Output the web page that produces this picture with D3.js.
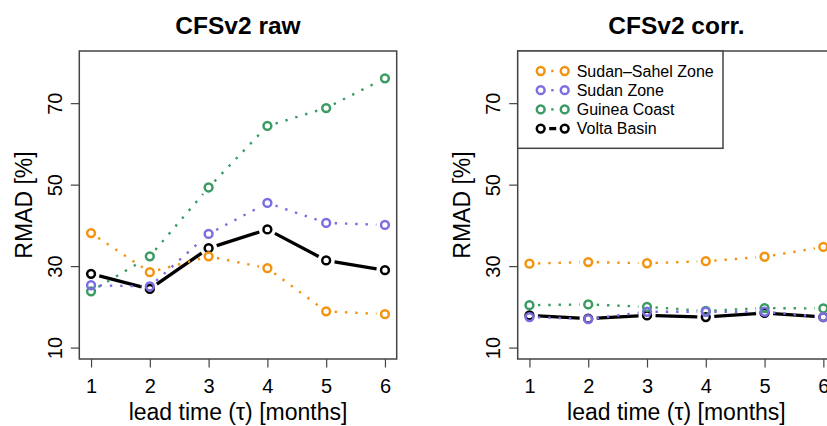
<!DOCTYPE html>
<html>
<head>
<meta charset="utf-8">
<script src="https://cdn.jsdelivr.net/npm/d3@7"></script>
<style>
  html, body { margin: 0; padding: 0; background: #fff; }
  svg { display: block; }
  text { font-family: "Liberation Sans", Arial, Helvetica, sans-serif; fill: #000; }
</style>
</head>
<body>
<svg id="chart" width="827" height="426"></svg>
<script>
// Lead times (months) and RMAD [%] per region, raw and bias-corrected CFSv2
const leadTime = [1, 2, 3, 4, 5, 6];
const yTicks = [10, 30, 50, 70];

const rawSahel  = [38.1, 28.5, 32.4, 29.5, 18.9, 18.2];
const rawSudan  = [25.3, 25.0, 37.9, 45.5, 40.6, 40.1];
const rawGuinea = [23.8, 32.4, 49.3, 64.4, 68.8, 76.1];
const rawVolta  = [28.1, 24.4, 34.4, 39.0, 31.4, 29.0];

const corrSahel  = [30.6, 31.0, 30.7, 31.2, 32.3, 34.7];
const corrSudan  = [17.5, 17.0, 18.8, 18.8, 18.8, 17.5];
const corrGuinea = [20.4, 20.6, 20.0, 19.0, 19.7, 19.6];
const corrVolta  = [17.9, 17.1, 17.9, 17.5, 18.5, 17.5];

const regionNames  = ["Sudan\u2013Sahel Zone", "Sudan Zone", "Guinea Coast", "Volta Basin"];
const regionColors = ["#f39410", "#7b6ee0", "#3a9c62", "#000000"];

const panels = [
  { title: "CFSv2 raw",   series: [rawSahel, rawSudan, rawGuinea, rawVolta],     left: 79.3,  legend: false },
  { title: "CFSv2 corr.", series: [corrSahel, corrSudan, corrGuinea, corrVolta], left: 517.7, legend: true }
];

const svg = d3.select("#chart");
const plotW = 317.4, plotTop = 51, plotBottom = 359;
const font = '"Liberation Sans", Arial, Helvetica, sans-serif';
const boxColor = "#444";
const gap = 8.5;          // space left around each point marker on the connecting lines
const r = 3.9;            // marker radius

// Line segments between consecutive points, trimmed so they stop short of the markers
function segments(pts) {
  const out = [];
  for (let i = 0; i < pts.length - 1; i++) {
    const [x0, y0] = pts[i], [x1, y1] = pts[i + 1];
    const dx = x1 - x0, dy = y1 - y0, len = Math.hypot(dx, dy);
    if (len <= 2 * gap) continue;
    const ux = dx / len, uy = dy / len;
    out.push([[x0 + ux * gap, y0 + uy * gap], [x1 - ux * gap, y1 - uy * gap]]);
  }
  return out;
}

function styleLine(sel, i) {
  if (i === 3) {
    sel.attr("stroke", regionColors[i]).attr("stroke-width", 3.3).attr("stroke-linecap", "butt");
  } else {
    sel.attr("stroke", regionColors[i]).attr("stroke-width", 2.4)
       .attr("stroke-dasharray", "2.4 7.9").attr("stroke-linecap", "butt");
  }
}

const drawOrder = [3, 2, 1, 0];

panels.forEach(p => {
  const x = d3.scaleLinear().domain([0.8, 6.2]).range([p.left, p.left + plotW]);
  const y = d3.scaleLinear().domain([7.2, 82.8]).range([plotBottom, plotTop]);
  const g = svg.append("g");

  // title
  g.append("text")
    .attr("x", p.left + plotW / 2).attr("y", 33.5)
    .attr("text-anchor", "middle")
    .style("font-size", "24.5px").style("font-weight", "bold")
    .text(p.title);

  // x axis
  const xAxis = g.append("g").attr("transform", `translate(0,${plotBottom})`)
    .call(d3.axisBottom(x).tickValues(leadTime).tickSize(8.5).tickFormat(d3.format("d")));
  xAxis.select(".domain").remove();
  xAxis.selectAll(".tick line").attr("stroke", boxColor).attr("stroke-width", 1.2);
  xAxis.selectAll(".tick text")
    .attr("y", 20).attr("dy", "0.71em")
    .style("font-size", "20px").style("font-family", font);

  g.append("text")
    .attr("x", p.left + plotW / 2).attr("y", 420)
    .attr("text-anchor", "middle")
    .style("font-size", "23px")
    .text("lead time (\u03c4) [months]");

  // y axis
  const yAxis = g.append("g").attr("transform", `translate(${p.left},0)`)
    .call(d3.axisLeft(y).tickValues(yTicks).tickSize(8.5).tickFormat(d3.format("d")));
  yAxis.select(".domain").remove();
  yAxis.selectAll(".tick line").attr("stroke", boxColor).attr("stroke-width", 1.2);
  yAxis.selectAll(".tick text").remove();
  yAxis.selectAll(".tick").append("text")
    .attr("transform", "translate(-25,0) rotate(-90)")
    .attr("text-anchor", "middle").attr("dy", "0.36em")
    .style("font-size", "20px").style("font-family", font)
    .text(d => d);

  g.append("text")
    .attr("transform", `translate(${p.left - 56},${(plotTop + plotBottom) / 2}) rotate(-90)`)
    .attr("text-anchor", "middle").attr("dy", "0.36em")
    .style("font-size", "23px")
    .text("RMAD [%]");

  // plot box
  g.append("rect")
    .attr("x", p.left).attr("y", plotTop).attr("width", plotW).attr("height", plotBottom - plotTop)
    .attr("fill", "none").attr("stroke", boxColor).attr("stroke-width", 1.5);

  // series
  drawOrder.forEach(i => {
    const vals = p.series[i];
    const pts = leadTime.map((t, k) => [x(t), y(vals[k])]);
    const sg = g.append("g");
    segments(pts).forEach(s => {
      sg.append("line")
        .attr("x1", s[0][0]).attr("y1", s[0][1]).attr("x2", s[1][0]).attr("y2", s[1][1])
        .call(styleLine, i);
    });
    sg.selectAll("circle").data(pts).enter().append("circle")
      .attr("cx", d => d[0]).attr("cy", d => d[1]).attr("r", r)
      .attr("fill", "none").attr("stroke", regionColors[i]).attr("stroke-width", 2.5);
  });

  // legend
  if (p.legend) {
    const lg = g.append("g");
    lg.append("rect")
      .attr("x", p.left).attr("y", plotTop).attr("width", 205.3).attr("height", 97.3)
      .attr("fill", "#fff").attr("stroke", boxColor).attr("stroke-width", 1.5);
    regionNames.forEach((name, i) => {
      const cy = 71 + i * 19.2;
      const x0 = p.left + 23, x1 = p.left + 47;
      const ln = lg.append("line")
        .attr("x1", x0 + gap).attr("y1", cy).attr("x2", x1 - gap).attr("y2", cy)
        .call(styleLine, i);
      if (i !== 3) ln.attr("stroke-dashoffset", -2);
      [x0, x1].forEach(cx => {
        lg.append("circle").attr("cx", cx).attr("cy", cy).attr("r", r)
          .attr("fill", "none").attr("stroke", regionColors[i]).attr("stroke-width", 2.5);
      });
      lg.append("text")
        .attr("x", p.left + 59).attr("y", cy).attr("dy", "0.36em")
        .style("font-size", "16px")
        .text(name);
    });
  }
});
</script>
</body>
</html>
